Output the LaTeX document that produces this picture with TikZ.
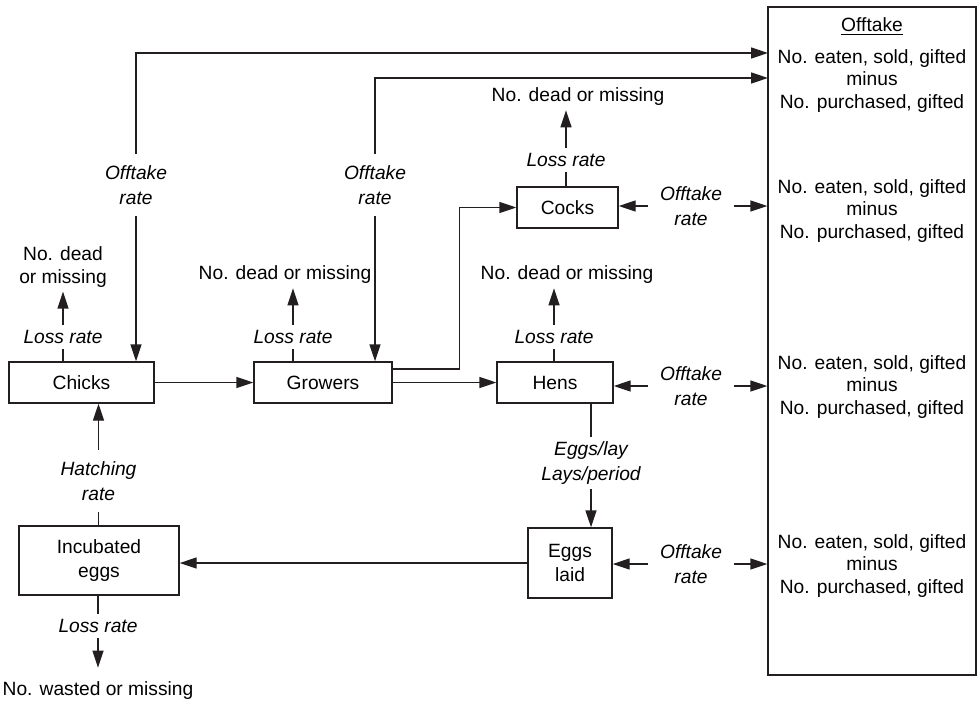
\documentclass[tikz,border=0pt]{standalone}
\usepackage{fontspec}
\setmainfont{Liberation Sans}
\usepackage{xcolor}
\usepackage{tikz}
\usetikzlibrary{arrows.meta, positioning, calc}
\definecolor{flowink}{HTML}{231F20}
\tikzset{
  stockbox/.style={draw=flowink, line width=0.7pt, inner sep=0pt, minimum height=20.5pt, align=center,
    font=\fontsize{9.6}{12}\selectfont},
  ratelbl/.style={inner xsep=6pt, inner ysep=2.5pt, align=center, font=\fontsize{9.6}{12.5}\selectfont\itshape},
  fatelbl/.style={inner sep=2pt, align=center, font=\fontsize{9.6}{11.3}\selectfont},
  link/.style={draw=flowink, line width=0.7pt},
  flow/.style={-{Triangle[length=8.5pt,width=5.5pt]}, draw=flowink, line width=0.7pt}
}
\begin{document}
\begin{tikzpicture}[x=0.5pt, y=-0.5pt]
\useasboundingbox (0,0) rectangle (977,701);
% stocks
\node[stockbox, minimum width=72.5pt] (chicks) at (81.5,382.5) {Chicks};
\node[stockbox, minimum width=69pt] (growers) at (323,382.5) {Growers};
\node[stockbox, minimum width=58pt] (hens) at (555,382.5) {Hens};
\node[stockbox, minimum width=50.5pt] (cocks) at (567.5,207.5) {Cocks};
\node[stockbox, minimum width=42pt, minimum height=35pt] (eggs) at (570,563) {Eggs\\laid};
\node[stockbox, minimum width=80pt, minimum height=34.5pt] (incub) at (99,560.5) {Incubated\\eggs};
\node[stockbox, minimum width=104pt, minimum height=334pt] (offtake) at (872,341) {};
\coordinate (intop) at (768,53);
\coordinate (insecond) at (768,78);
% offtake text
\node[fatelbl] (offhead) at (872,27) {\underline{Offtake}};
\node[fatelbl] (offtop) at (872,81) {No. eaten, sold, gifted\\minus\\No. purchased, gifted};
\node[fatelbl] (offcocks) at (872,211) {No. eaten, sold, gifted\\minus\\No. purchased, gifted};
\node[fatelbl] (offhens) at (872,387) {No. eaten, sold, gifted\\minus\\No. purchased, gifted};
\node[fatelbl] (offeggs) at (872,566) {No. eaten, sold, gifted\\minus\\No. purchased, gifted};
% rates
\node[ratelbl, inner ysep=5.5pt] (chicksoff) at (136,185) {Offtake\\rate};
\node[ratelbl, inner ysep=5.5pt] (growoff) at (375,185) {Offtake\\rate};
\node[ratelbl] (cocksoff) at (691,206) {Offtake\\rate};
\node[ratelbl] (hensoff) at (691,386) {Offtake\\rate};
\node[ratelbl] (eggsoff) at (691,564) {Offtake\\rate};
\node[ratelbl] (chicksloss) at (63,337) {Loss rate};
\node[ratelbl] (growloss) at (293,337) {Loss rate};
\node[ratelbl] (cocksloss) at (566,160) {Loss rate};
\node[ratelbl] (hensloss) at (554,337) {Loss rate};
\node[ratelbl, inner ysep=5.5pt] (hatch) at (98.5,481) {Hatching\\rate};
\node[ratelbl, inner ysep=2pt] (eggrate) at (591,463) {Eggs/lay\\Lays/period};
\node[ratelbl] (incubloss) at (98,626) {Loss rate};
% fates
\node[fatelbl] (chicksdead) at (63,267) {No. dead\\or missing};
\node[fatelbl] (growdead) at (285,275) {No. dead or missing};
\node[fatelbl] (cocksdead) at (578,97) {No. dead or missing};
\node[fatelbl] (hensdead) at (567,275) {No. dead or missing};
\node[fatelbl] (eggwaste) at (98,691) {No. wasted or missing};
% losses
\draw[link] (chicks.north -| chicksloss) -- (chicksloss);
\draw[flow] (chicksloss) -- (chicksloss |- chicksdead.south);
\draw[link] (growers.north -| growloss) -- (growloss);
\draw[flow] (growloss) -- (growloss |- growdead.south);
\draw[link] (cocks.north -| cocksloss) -- (cocksloss);
\draw[flow] (cocksloss) -- (cocksloss |- cocksdead.south);
\draw[link] (hens.north -| hensloss) -- (hensloss);
\draw[flow] (hensloss) -- (hensloss |- hensdead.south);
\draw[link] (incub.south -| incubloss) -- (incubloss);
\draw[flow] (incubloss) -- ([yshift=5pt]incubloss |- eggwaste.north);
% offtake
\draw[flow] (chicksoff) -- (chicksoff |- chicks.north);
\draw[flow] (chicksoff) |- (intop);
\draw[flow] (growoff) -- (growoff |- growers.north);
\draw[flow] (growoff) |- (insecond);
\draw[flow] (cocksoff) -- (cocksoff -| cocks.east);
\draw[flow] (cocksoff) -- (cocksoff -| offtake.west);
\draw[flow] (hensoff) -- (hensoff -| hens.east);
\draw[flow] (hensoff) -- (hensoff -| offtake.west);
\draw[flow] (eggsoff) -- (eggsoff -| eggs.east);
\draw[flow] (eggsoff) -- (eggsoff -| offtake.west);
% flock flows
\draw[flow] (chicks) -- (growers);
\draw[flow] (growers) -- (hens);
\draw[flow] ([yshift=6.75pt]growers.east) -- ++(67,0) |- (cocks);
\draw[link] (hens.south -| eggrate) -- (eggrate);
\draw[flow] (eggrate) -- (eggrate |- eggs.north);
\draw[flow] (eggs) -- (eggs -| incub.east);
\draw[link] (incub.north -| hatch) -- (hatch);
\draw[flow] (hatch) -- (hatch |- chicks.south);
\end{tikzpicture}
\end{document}
